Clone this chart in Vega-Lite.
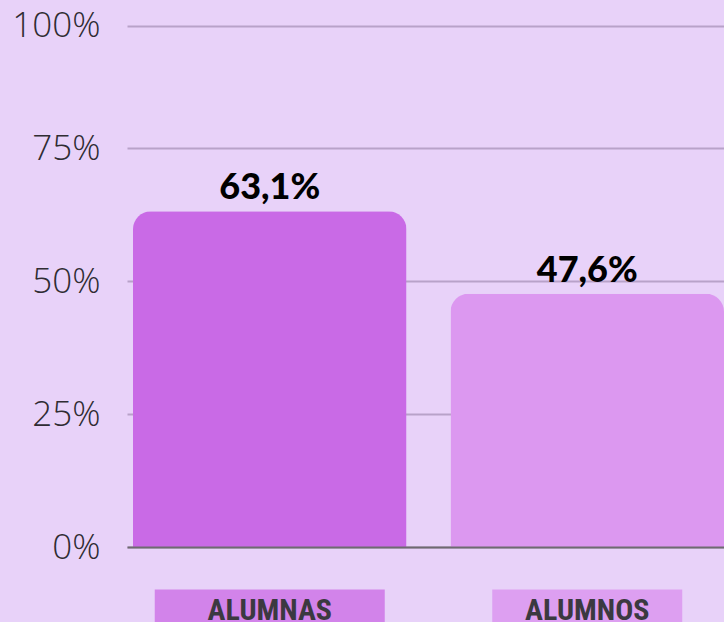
{
  "$schema": "https://vega.github.io/schema/vega-lite/v6.json",
  "width": 597,
  "height": 532,
  "autosize": {"type": "none"},
  "padding": {"left": 127, "top": 15, "right": 0, "bottom": 75},
  "background": "#e8d2f9",
  "config": {"view": {"stroke": null}},
  "data": {
    "values": [
      {"grupo": "ALUMNAS", "pct": 63.1, "etiqueta": "63,1%"},
      {"grupo": "ALUMNOS", "pct": 47.6, "etiqueta": "47,6%"}
    ]
  },
  "encoding": {
    "x": {
      "field": "grupo",
      "type": "nominal",
      "sort": null,
      "scale": {"paddingInner": 0.1386, "paddingOuter": 0.00945, "align": 1},
      "axis": {
        "title": null,
        "zindex": 1,
        "labelAngle": 0,
        "labelFont": "Roboto Condensed, DejaVu Sans Condensed, sans-serif",
        "labelFontWeight": "bold",
        "labelFontSize": 30,
        "labelColor": "#3b3940",
        "labelBaseline": "top",
        "labelPadding": 48,
        "ticks": false,
        "domainColor": "#6e6a70",
        "domainWidth": 2
      }
    }
  },
  "layer": [
    {
      "mark": {"type": "bar", "clip": false},
      "encoding": {
        "y": {"datum": -8, "type": "quantitative", "scale": {"domain": [0, 100]}},
        "y2": {"datum": -16},
        "size": {"field": "grupo", "type": "nominal", "scale": {"range": [230, 190]}, "legend": null},
        "color": {"field": "grupo", "type": "nominal", "scale": {"range": ["#d283ea", "#dd9ff1"]}, "legend": null}
      }
    },
    {
      "mark": {"type": "bar", "cornerRadiusTopLeft": 18, "cornerRadiusTopRight": 18},
      "encoding": {
        "y": {
          "field": "pct",
          "type": "quantitative",
          "scale": {"domain": [0, 100]},
          "axis": {
            "title": null,
            "values": [0, 25, 50, 75, 98],
            "labelExpr": "datum.value == 98 ? '100%' : datum.value + '%'",
            "labelFont": "Open Sans",
            "labelFontWeight": 300,
            "labelFontSize": 35,
            "labelColor": "#2f2c33",
            "labelPadding": 27,
            "ticks": false,
            "domain": false,
            "grid": true,
            "gridColor": "#b8a2c9",
            "gridWidth": 2
          }
        },
        "color": {"field": "grupo", "type": "nominal", "scale": {"range": ["#c96ae6", "#dc98f0"]}, "legend": null}
      }
    },
    {
      "mark": {"type": "text", "baseline": "alphabetic", "dy": -12, "font": "Lato", "fontWeight": 900, "fontSize": 36, "color": "#000000"},
      "encoding": {
        "y": {"field": "pct", "type": "quantitative"},
        "text": {"field": "etiqueta"}
      }
    }
  ],
  "resolve": {"scale": {"color": "independent"}}
}
